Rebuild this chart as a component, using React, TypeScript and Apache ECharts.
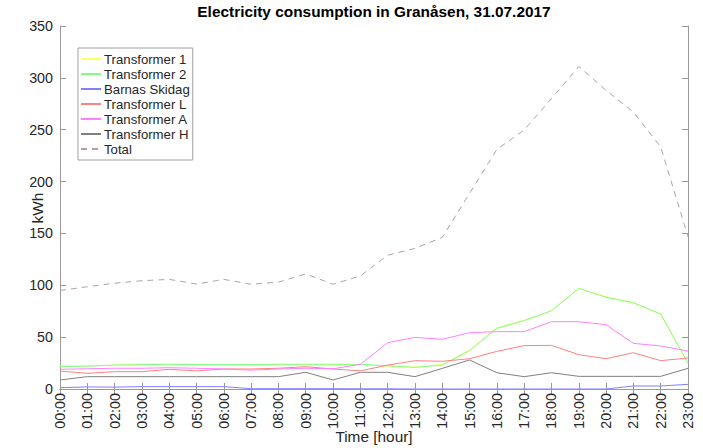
import React, { useEffect, useRef } from "react";
import * as echarts from "echarts";

const hours = [
  "00:00", "01:00", "02:00", "03:00", "04:00", "05:00", "06:00", "07:00",
  "08:00", "09:00", "10:00", "11:00", "12:00", "13:00", "14:00", "15:00",
  "16:00", "17:00", "18:00", "19:00", "20:00", "21:00", "22:00", "23:00",
];

const transformer1 = [22, 22.3, 23, 23.8, 24, 23.6, 23.2, 23, 23.5, 23.2, 23.6, 23.2, 22.2, 21.2, 23.6, 37.5, 59, 66.2, 75.2, 97, 89, 83, 72, 25];
const transformer2 = [21.5, 22, 23, 23.5, 23.8, 23.5, 23.8, 23.5, 23.8, 23.8, 23.8, 23.8, 22.4, 20.8, 23.1, 37, 58.5, 66, 75.5, 97, 88.4, 83.2, 72.3, 24.8];
const barnasSkidag = [1.3, 2, 1.8, 2.3, 2.3, 2.3, 2.3, 0.3, 0.3, 0.3, 0.3, 0.2, 0.2, 0, 0, 0, 0, 0, 0, 0, 0, 2.9, 2.9, 4.5];
const transformerL = [17.3, 15.1, 16.7, 16.7, 19, 17.5, 19.3, 19.3, 20, 21.5, 19.3, 17.5, 23, 27.3, 26.7, 29.2, 36.3, 41.8, 42.1, 33.1, 29.2, 35, 27.3, 29.9];
const transformerA = [19, 19.5, 20, 20, 20.5, 20, 19.3, 18.2, 19.3, 20, 19.5, 23.8, 44.6, 49.8, 47.9, 54.3, 55.3, 55.3, 64.9, 64.9, 62, 44, 41.5, 36.6];
const transformerH = [8.7, 11.9, 11.9, 11.9, 11.9, 11.9, 11.9, 11.9, 11.9, 16.1, 8.7, 16.1, 16.1, 11.9, 19.9, 28, 15.7, 11.9, 15.7, 12.2, 12.2, 12.2, 12.2, 19.9];
const total = [95, 98.6, 102, 104.4, 105.7, 101.2, 105.7, 101, 103, 111, 101, 109, 129, 135.6, 146.2, 188.6, 231, 249.7, 280, 311, 288, 267, 233.5, 146.8];

const seriesNames = ["Transformer 1", "Transformer 2", "Barnas Skidag", "Transformer L", "Transformer A", "Transformer H", "Total"];
const seriesColors = ["#ffff66", "#80ff80", "#8080ff", "#ff8080", "#ff80ff", "#808080", "#b3a0a6"];
const seriesData = [transformer1, transformer2, barnasSkidag, transformerL, transformerA, transformerH, total];

const FONT = "Liberation Sans, Arial, Helvetica, sans-serif";
const AXIS_COLOR = "#9a9a9a";
const TEXT_COLOR = "#262626";

export default function App() {
  const ref = useRef<HTMLDivElement>(null);

  useEffect(() => {
    if (!ref.current) return;
    const chart = echarts.init(ref.current, null, { renderer: "svg" });
    const gridLeft = 60;
    const gridRight = 15;
    const gridTop = 26;
    const gridBottom = 59;
    const plotCenter = gridLeft + (703 - gridLeft - gridRight) / 2;

    chart.setOption({
      animation: false,
      backgroundColor: "#ffffff",
      textStyle: { fontFamily: FONT },
      grid: { left: gridLeft, right: gridRight, top: gridTop, bottom: gridBottom, containLabel: false },
      legend: {
        orient: "vertical",
        left: 78,
        top: 48,
        backgroundColor: "#ffffff",
        borderColor: "#a0a0a0",
        borderWidth: 1,
        borderRadius: 0,
        padding: [4, 3, 4, 2],
        itemGap: 1,
        itemWidth: 20,
        itemHeight: 12,
        itemStyle: { opacity: 0 },
        textStyle: { fontFamily: FONT, fontSize: 13.2, lineHeight: 14, color: TEXT_COLOR, padding: [0, 0, 0, -2] },
        data: seriesNames,
      },
      graphic: [
        {
          type: "text",
          x: plotCenter,
          y: 4,
          style: {
            text: "Electricity consumption in Granåsen, 31.07.2017",
            fontFamily: FONT,
            fontSize: 15.4,
            fontWeight: "bold",
            fill: "#000000",
            textAlign: "center",
            textVerticalAlign: "top",
          },
        },
        {
          type: "text",
          x: plotCenter,
          y: 429,
          style: {
            text: "Time [hour]",
            fontFamily: FONT,
            fontSize: 15.4,
            fill: TEXT_COLOR,
            textAlign: "center",
            textVerticalAlign: "top",
          },
        },
        {
          type: "text",
          x: 37,
          y: 208,
          rotation: Math.PI / 2,
          style: {
            text: "kWh",
            fontFamily: FONT,
            fontSize: 15.4,
            fill: TEXT_COLOR,
            textAlign: "center",
            textVerticalAlign: "middle",
          },
        },
      ],
      xAxis: [
        {
          type: "category",
          data: hours,
          boundaryGap: false,
          position: "bottom",
          axisLine: { show: true, lineStyle: { color: AXIS_COLOR, width: 1 } },
          axisTick: { show: true, inside: true, length: 6, lineStyle: { color: AXIS_COLOR } },
          axisLabel: { rotate: 90, fontSize: 14.3, color: TEXT_COLOR, fontFamily: FONT, margin: 4, interval: 0 },
          splitLine: { show: false },
        },
        {
          type: "category",
          data: hours,
          boundaryGap: false,
          position: "top",
          axisLine: { show: true, lineStyle: { color: AXIS_COLOR, width: 1 } },
          axisTick: { show: true, inside: true, length: 6, interval: 0, lineStyle: { color: AXIS_COLOR } },
          axisLabel: { show: false },
          splitLine: { show: false },
        },
      ],
      yAxis: [
        {
          type: "value",
          min: 0,
          max: 350,
          interval: 50,
          position: "left",
          axisLine: { show: true, lineStyle: { color: AXIS_COLOR, width: 1 } },
          axisTick: { show: true, inside: true, length: 6, lineStyle: { color: AXIS_COLOR } },
          axisLabel: { fontSize: 14.3, color: TEXT_COLOR, fontFamily: FONT, margin: 7 },
          splitLine: { show: false },
        },
        {
          type: "value",
          min: 0,
          max: 350,
          interval: 50,
          position: "right",
          axisLine: { show: true, lineStyle: { color: AXIS_COLOR, width: 1 } },
          axisTick: { show: true, inside: true, length: 6, lineStyle: { color: AXIS_COLOR } },
          axisLabel: { show: false },
          splitLine: { show: false },
        },
      ],
      series: seriesNames.map((name, i) => ({
        name,
        type: "line",
        xAxisIndex: 0,
        yAxisIndex: 0,
        data: seriesData[i],
        symbol: "none",
        showSymbol: false,
        color: seriesColors[i],
        lineStyle: {
          color: seriesColors[i],
          width: 1,
          type: name === "Total" ? [6, 5] : "solid",
        },
        z: 2 + i,
      })),
    });

    return () => chart.dispose();
  }, []);

  return <div ref={ref} style={{ width: 703, height: 448, position: "absolute", left: 0, top: 0 }} />;
}
